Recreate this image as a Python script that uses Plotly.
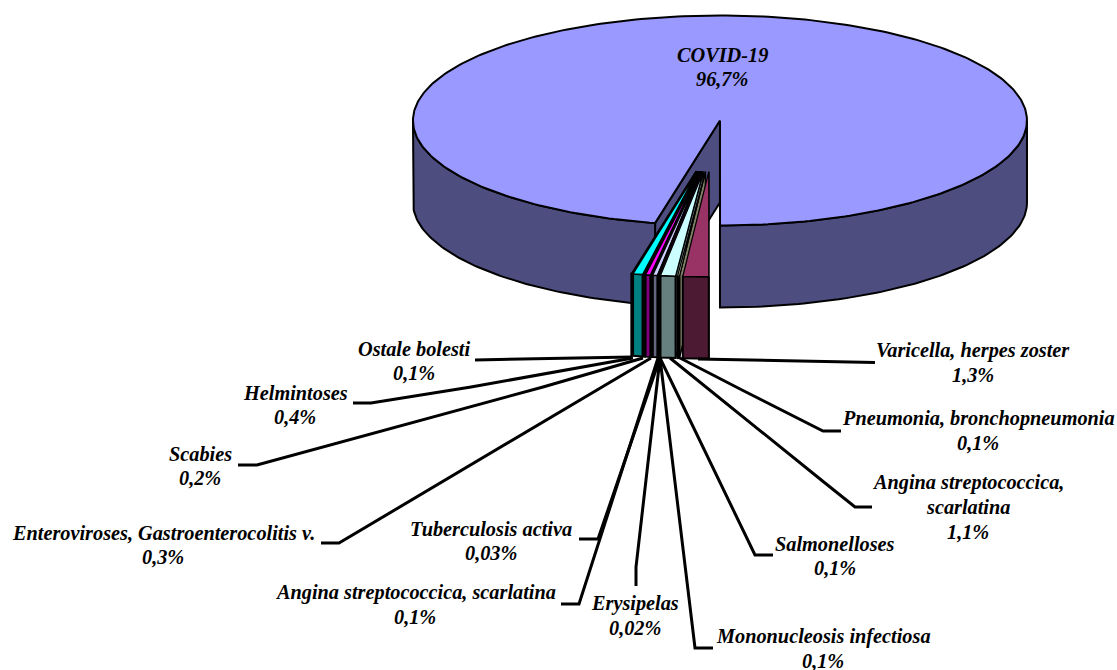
import math
import plotly.graph_objects as go

# ---- data -------------------------------------------------------------
categories = ["COVID-19", "Varicella, herpes zoster", "Pneumonia, bronchopneumonia",
              "Angina streptococcica,<br>scarlatina", "Salmonelloses", "Mononucleosis infectiosa",
              "Erysipelas", "Tuberculosis activa", "Angina streptococcica, scarlatina",
              "Enteroviroses, Gastroenterocolitis v.", "Scabies", "Helmintoses", "Ostale bolesti"]
value_labels = ["96,7%", "1,3%", "0,1%", "1,1%", "0,1%", "0,1%", "0,02%", "0,03%", "0,1%",
                "0,3%", "0,2%", "0,4%", "0,1%"]
# slice sizes in percent as drawn in the picture (the picture's slivers differ from the printed labels)
drawn_share = [96.61, 1.35, 0.094, 0.786, 0.011, 0.011, 0.008, 0.239, 0.056, 0.25, 0.056, 0.5, 0.028]

# ---- styles and layout -------------------------------------------------
top_colors = ["#9999FF", "#993366", "#FFFFCC", "#CCFFFF", "#660066", "#FF8080", "#0066CC",
              "#CCCCFF", "#000080", "#FF00FF", "#FFFF00", "#00FFFF", "#800080"]
side_colors = ["#4D4D80", "#4D1A33", "#808066", "#668080", "#330033", "#804040", "#003366",
               "#666680", "#000040", "#800080", "#808000", "#008080", "#400040"]
CX, CY, RX, RY, DEPTH, EXPLODE = 712, 146, 307, 105, 82, 75
W, H = 1117, 670
LINE_GAP = 24.5
label_pos = [(722, 67), (973, 363), (978, 431), (968, 507), (835, 556), (823, 649), (635, 616),
             (491, 541), (415, 605), (163, 545), (200, 466), (295, 405), (414, 361)]
leaders = [None,
           [(875, 362.5), (698, 359)],
           [(841, 431), (823, 431), (742, 390), (680, 358)],
           [(872, 507), (855, 507), (825, 483), (670, 358)],
           [(773, 555), (755, 555), (660, 358)],
           [(713, 648), (695, 648), (660, 358)],
           [(636, 586), (636, 567), (660, 358)],
           [(579, 539), (598, 539), (660, 358)],
           [(561, 604), (579, 604), (658, 358)],
           [(321, 543), (339, 543), (651, 358)],
           [(238, 465), (257, 465), (543, 387), (643, 358)],
           [(353, 403), (371, 403), (471, 387), (633, 358)],
           [(475, 360), (632, 357)]]

fig = go.Figure()


def poly(xs, ys, fill, width=2):
    fig.add_trace(go.Scatter(x=xs + xs[:1], y=ys + ys[:1], mode="lines", fill="toself",
                             fillcolor=fill, line=dict(color="black", width=width),
                             hoverinfo="skip", showlegend=False))


def pt(cx, cy, deg):
    a = math.radians(deg)
    return cx - RX * math.sin(a), cy + RY * math.cos(a)


def arc(cx, cy, d0, d1):
    n = max(2, int(abs(d1 - d0)) + 2)
    ps = [pt(cx, cy, d0 + (d1 - d0) * i / (n - 1)) for i in range(n)]
    return [p[0] for p in ps], [p[1] for p in ps]


def rim(cx, cy, d0, d1, fill):
    xs, ys = arc(cx, cy, d0, d1)
    poly(xs + xs[::-1], ys + [y + DEPTH for y in ys[::-1]], fill)


def centre(mid):
    a = math.radians(mid)
    return CX - EXPLODE * math.sin(a), CY + EXPLODE * RY / RX * math.cos(a)


# angular spans: small slices run clockwise from 6 o'clock, the big slice takes the rest
spans = []
start = 0.0
order = list(range(1, len(drawn_share))) + [0]
for i in order:
    sweep = drawn_share[i] * 3.6
    spans.append((i, start, start + sweep))
    start += sweep
span = {i: (a, b) for i, a, b in spans}

# big slice
a0, a1 = span[0]
cx0, cy0 = centre((a0 + a1) / 2)
ex, ey = pt(cx0, cy0, a0)
poly([cx0, ex, ex, cx0], [cy0, ey, ey + DEPTH, cy0 + DEPTH], side_colors[0])
rim(cx0, cy0, a0, 90, side_colors[0])
rim(cx0, cy0, 270, 360, side_colors[0])
xs, ys = arc(cx0, cy0, a0, a0 + drawn_share[0] * 3.6)
poly([cx0] + xs, [cy0] + ys, top_colors[0])

# small slices, left-most first so that the ones to the right overlap them
for i in range(len(drawn_share) - 1, 0, -1):
    d0, d1 = span[i]
    cx, cy = centre((d0 + d1) / 2)
    rx_, ry_ = pt(cx, cy, d0)
    poly([cx, rx_, rx_, cx], [cy, ry_, ry_ + DEPTH, cy + DEPTH], side_colors[i], 1.5)
    rim(cx, cy, d0, d1, side_colors[i])
    xs, ys = arc(cx, cy, d0, d1)
    poly([cx] + xs, [cy] + ys, top_colors[i], 1.25)

# leader lines
for path in leaders:
    if path:
        fig.add_trace(go.Scatter(x=[p[0] for p in path], y=[p[1] for p in path], mode="lines",
                                 line=dict(color="black", width=3), hoverinfo="skip",
                                 showlegend=False))

for name, val, (x, y) in zip(categories, value_labels, label_pos):
    lines = name.split("<br>") + [val]
    for k, line in enumerate(lines):
        fig.add_annotation(x=x, y=y + (k - (len(lines) - 1) / 2) * LINE_GAP, xref="x", yref="y",
                           text=line, showarrow=False, xanchor="center", yanchor="middle",
                           font=dict(family="Liberation Serif", size=20.3, color="black",
                                     weight="bold", style="italic"))

fig.update_xaxes(range=[0, W], visible=False, fixedrange=True)
fig.update_yaxes(range=[H, 0], visible=False, fixedrange=True)
fig.update_layout(width=W, height=H, margin=dict(l=0, r=0, t=0, b=0),
                  paper_bgcolor="white", plot_bgcolor="white", showlegend=False)
fig.write_html("out.html", config=dict(displayModeBar=False),
               post_script="document.body.style.margin='0';")
